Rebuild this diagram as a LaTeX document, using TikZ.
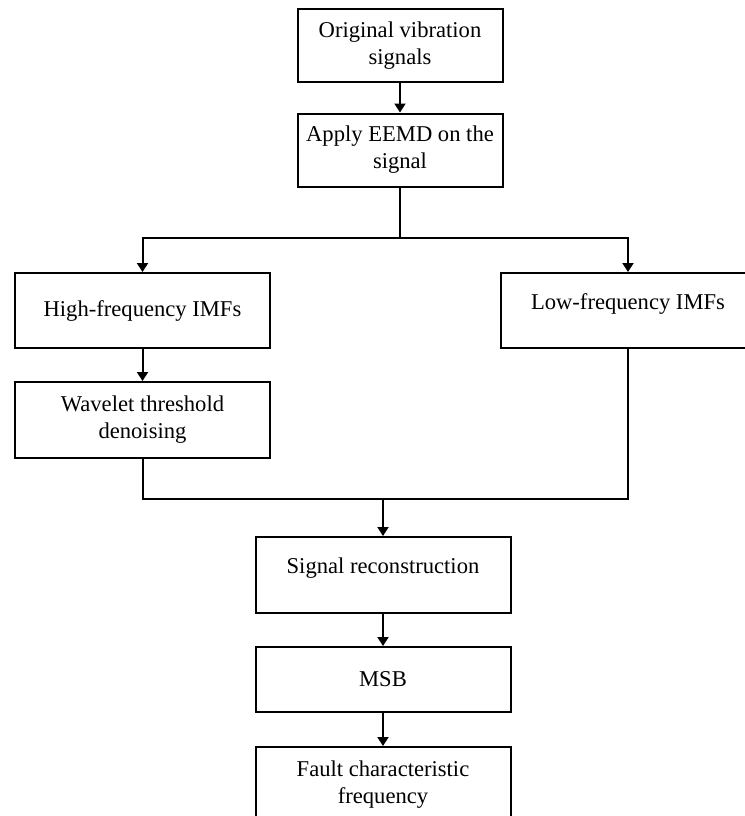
\documentclass[tikz,border=0pt]{standalone}
\usepackage{fontspec}
\setmainfont{Liberation Serif}
\usetikzlibrary{arrows.meta}

\begin{document}
\begin{tikzpicture}[x=0.5pt,y=-0.5pt,line width=1pt,>={Triangle[length=4.5pt,width=5.5pt]},main node/.style={draw,align=center,inner sep=0pt,minimum width=127.5pt,minimum height=38pt,font=\fontsize{11.3}{13.5}\selectfont},top node/.style={main node,minimum width=102.5pt,minimum height=36.5pt},raised node/.style={main node,text depth=9pt}]
    \useasboundingbox (0,0) rectangle (745,816);

    \node[top node] (1) at (400,45.5) {Original vibration\\signals};
    \node[top node] (2) at (400,150) {Apply EEMD on the\\signal};
    \node[main node,minimum height=37.5pt] (3) at (142.5,310.5) {High-frequency IMFs};
    \node[raised node,minimum height=37.5pt] (4) at (628,310.5) {Low-frequency IMFs};
    \node[main node] (5) at (142.5,420) {Wavelet threshold\\denoising};
    \node[raised node] (6) at (383,575) {Signal reconstruction};
    \node[main node,minimum height=32.5pt] (7) at (383,679.5) {MSB};
    \node[main node] (8) at (383,785) {Fault characteristic\\frequency};

    \coordinate (split) at (400,238);
    \coordinate (join) at (383,499);

    \path[->]
        (1) edge (2)
        (6) edge (7)
        (7) edge (8);

    \draw (2.south) -- (split);
    \draw[->] (split) -| (3.north);
    \draw[->] (split) -| (4.north);
    \draw[->] (3) -- (5);
    \draw (5.south) |- (join) -| (4.south);
    \draw[->] (join) -- (6.north);

    \end{tikzpicture}
\end{document}
